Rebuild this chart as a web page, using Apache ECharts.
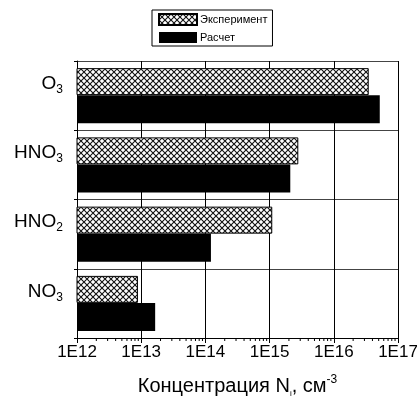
<!DOCTYPE html>
<html><head><meta charset="utf-8">
<script src="https://cdn.jsdelivr.net/npm/echarts@6/dist/echarts.min.js"></script>
<style>html,body{margin:0;padding:0;background:#fff}#c{width:417px;height:399px}</style>
</head><body><div id="c"></div>
<script>
// Data
const categories = ['NO3', 'HNO2', 'HNO3', 'O3']; // bottom to top
const experiment = [8.9e12, 1.1e15, 2.8e15, 3.5e16];
const calculation = [1.65e13, 1.22e14, 2.1e15, 5.2e16];
const seriesNames = ['Эксперимент', 'Расчет'];
const xTickExponents = [12, 13, 14, 15, 16, 17];
const minorMultipliers = [2, 3, 4, 5, 6, 7, 8, 9];

const minorTicks = [];
for (let i = 0; i < xTickExponents.length - 1; i++) {
  for (const m of minorMultipliers) minorTicks.push([m * Math.pow(10, xTickExponents[i])]);
}

// Crosshatch pattern
const pc = document.createElement('canvas');
pc.width = 6; pc.height = 6;
const pctx = pc.getContext('2d');
pctx.fillStyle = '#fff'; pctx.fillRect(0, 0, 6, 6);
pctx.strokeStyle = '#111'; pctx.lineWidth = 1.1;
pctx.beginPath();
pctx.moveTo(0, 0); pctx.lineTo(6, 6);
pctx.moveTo(6, 0); pctx.lineTo(0, 6);
pctx.stroke();
const hatch = { image: pc, repeat: 'repeat' };

const FONT = 'Liberation Sans, Arial, sans-serif';

function catLabel(v) {
  const m = v.match(/^([A-Za-z]+?)(\d+)$/);
  return '{m|' + m[1] + '}{s|' + m[2] + '}';
}

const chart = echarts.init(document.getElementById('c'), null, { renderer: 'canvas' });
chart.setOption({
  animation: false,
  backgroundColor: '#fff',
  textStyle: { fontFamily: FONT },
  legend: {
    orient: 'vertical',
    left: 152, top: 10,
    padding: [3, 5, 3, 6],
    itemWidth: 38, itemHeight: 11, itemGap: 6,
    icon: 'rect',
    borderColor: '#000', borderWidth: 1,
    data: seriesNames,
    textStyle: { fontFamily: FONT, fontSize: 11, color: '#000', padding: [0, 0, 0, -2] }
  },
  grid: { left: 77, right: 19, top: 61, bottom: 61, containLabel: false, outerBoundsMode: 'none' },
  xAxis: {
    type: 'log', logBase: 10,
    min: Math.pow(10, xTickExponents[0]),
    max: Math.pow(10, xTickExponents[xTickExponents.length - 1]),
    axisLine: { show: true, lineStyle: { color: '#000', width: 1 } },
    axisTick: { show: true, length: 5, lineStyle: { color: '#000' } },
    splitLine: { show: true, lineStyle: { color: '#000', width: 1 } },
    axisLabel: {
      color: '#000', fontSize: 17, fontFamily: FONT, margin: 6,
      formatter: v => '1E' + Math.round(Math.log10(v))
    },
    name: 'Концентрация N{s|i}, см{p|-3}',
    nameLocation: 'middle', nameGap: 36,
    nameTextStyle: {
      color: '#000', fontSize: 20, fontFamily: FONT, lineHeight: 24,
      rich: {
        s: { fontSize: 8, fontFamily: FONT, color: '#000', verticalAlign: 'bottom', lineHeight: 10, padding: [8, 0, 0, 0] },
        p: { fontSize: 12, fontFamily: FONT, color: '#000', verticalAlign: 'top', lineHeight: 12 }
      }
    }
  },
  yAxis: {
    type: 'category', data: categories,
    axisLine: { show: true, lineStyle: { color: '#000', width: 1 } },
    axisTick: { show: true, length: 3, lineStyle: { color: '#000' } },
    splitLine: { show: true, lineStyle: { color: '#444', width: 1 } },
    axisLabel: {
      margin: 14, formatter: catLabel, verticalAlign: 'bottom',
      rich: {
        m: { fontSize: 19, fontFamily: FONT, color: '#000', lineHeight: 24, verticalAlign: 'middle' },
        s: { fontSize: 12, fontFamily: FONT, color: '#000', lineHeight: 12, verticalAlign: 'bottom' }
      }
    }
  },
  series: [
    {
      name: seriesNames[0], type: 'bar', data: experiment,
      barWidth: 27, barGap: '0%',
      itemStyle: { color: hatch, borderColor: '#000', borderWidth: 1 }
    },
    {
      name: seriesNames[1], type: 'bar', data: calculation,
      barWidth: 28, barGap: '0%',
      itemStyle: { color: '#000', borderColor: '#000', borderWidth: 0 }
    },
    {
      type: 'custom', silent: true, clip: false, legendHoverLink: false,
      data: minorTicks,
      encode: { x: 0 },
      renderItem: function (params, api) {
        const x = api.coord([api.value(0), 0])[0];
        const y = params.coordSys.y + params.coordSys.height;
        return { type: 'line', shape: { x1: x, y1: y, x2: x, y2: y + 3 }, style: { stroke: '#000', lineWidth: 1 } };
      }
    }
  ]
});
</script></body></html>
